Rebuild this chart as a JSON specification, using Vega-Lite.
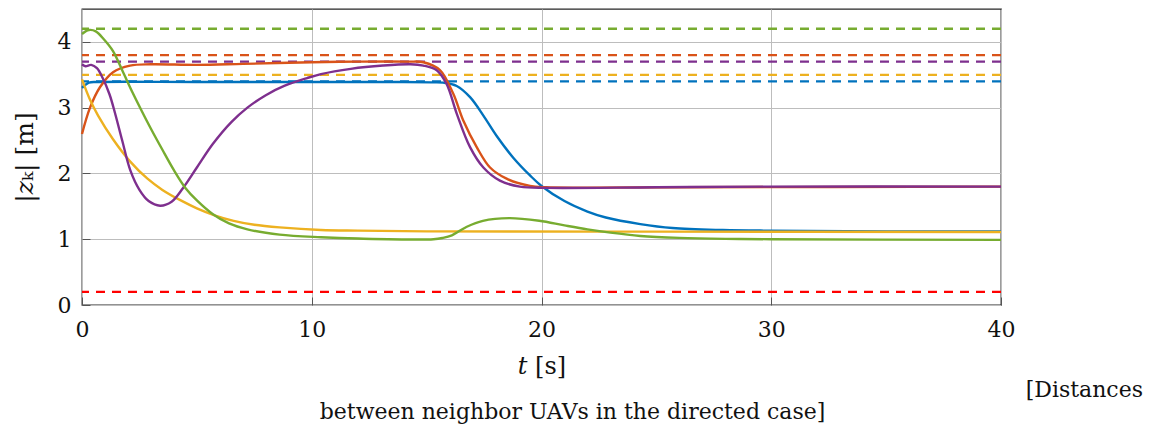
{
  "$schema": "https://vega.github.io/schema/vega-lite/v6.json",
  "width": 919,
  "height": 296,
  "autosize": {"type": "none"},
  "padding": {"left": 82, "top": 9, "right": 159, "bottom": 125},
  "background": "white",
  "config": {
    "view": {"stroke": "#262626", "strokeWidth": 1.3}
  },
  "title": {
    "text": "between neighbor UAVs in the directed case]",
    "orient": "bottom",
    "anchor": "middle",
    "frame": "group",
    "dx": 31,
    "offset": 1,
    "font": "DejaVu Serif",
    "fontSize": 22,
    "fontWeight": "normal",
    "color": "#111"
  },
  "resolve": {"scale": {"x": "shared", "y": "shared", "color": "shared"}},
  "layer": [
    {
      "data": {"values": [
        {"k": "z1", "v": 3.4},
        {"k": "z2", "v": 3.8},
        {"k": "z3", "v": 3.5},
        {"k": "z4", "v": 3.7},
        {"k": "z5", "v": 4.2},
        {"k": "min", "v": 0.2}
      ]},
      "mark": {"type": "rule", "strokeDash": [9, 7], "strokeWidth": 2.3},
      "encoding": {
        "y": {
          "field": "v",
          "type": "quantitative",
          "scale": {"domain": [0, 4.5], "nice": false},
          "axis": {
            "values": [0, 1, 2, 3, 4], "format": "d", "title": "|𝑧ₖ| [m]",
            "labelFont": "DejaVu Serif", "labelFontSize": 22, "labelColor": "#111", "labelPadding": 19,
            "titleFont": "DejaVu Serif", "titleFontSize": 25, "titleFontWeight": "normal", "titleColor": "#111", "titlePadding": 20,
            "grid": true, "gridColor": "#bdbdbd", "gridWidth": 1, "domain": false,
            "ticks": true, "tickSize": -8, "tickColor": "#555", "tickWidth": 1
          }
        },
        "color": {
          "field": "k",
          "type": "nominal",
          "legend": null,
          "scale": {
            "domain": ["z1", "z2", "z3", "z4", "z5", "min"],
            "range": ["#0072BD", "#D95319", "#EDB120", "#7E2F8E", "#77AC30", "#FF0000"]
          }
        }
      }
    },
    {
      "data": {"values": [
        {"k":"z1","t":0,"v":3.30},{"k":"z1","t":0.3,"v":3.38},{"k":"z1","t":0.7,"v":3.39},{"k":"z1","t":5,"v":3.39},{"k":"z1","t":10,"v":3.39},{"k":"z1","t":14,"v":3.39},{"k":"z1","t":15.2,"v":3.385},{"k":"z1","t":15.73,"v":3.38},{"k":"z1","t":16.31,"v":3.33},{"k":"z1","t":16.89,"v":3.16},{"k":"z1","t":17.47,"v":2.88},{"k":"z1","t":18.05,"v":2.57},{"k":"z1","t":18.77,"v":2.24},{"k":"z1","t":19.5,"v":1.97},{"k":"z1","t":20.0,"v":1.81},{"k":"z1","t":21.0,"v":1.58},{"k":"z1","t":22.0,"v":1.42},{"k":"z1","t":22.8,"v":1.33},{"k":"z1","t":24.3,"v":1.23},{"k":"z1","t":25.7,"v":1.17},{"k":"z1","t":27.9,"v":1.14},{"k":"z1","t":30,"v":1.13},{"k":"z1","t":35,"v":1.12},{"k":"z1","t":40,"v":1.12},
        {"k":"z2","t":0,"v":2.60},{"k":"z2","t":0.35,"v":3.0},{"k":"z2","t":0.78,"v":3.31},{"k":"z2","t":1.35,"v":3.54},{"k":"z2","t":2.09,"v":3.64},{"k":"z2","t":3,"v":3.66},{"k":"z2","t":5,"v":3.65},{"k":"z2","t":7,"v":3.665},{"k":"z2","t":10,"v":3.69},{"k":"z2","t":12,"v":3.70},{"k":"z2","t":14.2,"v":3.70},{"k":"z2","t":14.86,"v":3.69},{"k":"z2","t":15.58,"v":3.57},{"k":"z2","t":16.16,"v":3.21},{"k":"z2","t":16.6,"v":2.80},{"k":"z2","t":17.18,"v":2.40},{"k":"z2","t":17.76,"v":2.09},{"k":"z2","t":18.48,"v":1.92},{"k":"z2","t":19.5,"v":1.81},{"k":"z2","t":20.2,"v":1.79},{"k":"z2","t":22,"v":1.785},{"k":"z2","t":26,"v":1.79},{"k":"z2","t":40,"v":1.80},
        {"k":"z3","t":0,"v":3.43},{"k":"z3","t":0.35,"v":3.12},{"k":"z3","t":0.7,"v":2.88},{"k":"z3","t":1.35,"v":2.52},{"k":"z3","t":2.1,"v":2.18},{"k":"z3","t":2.85,"v":1.92},{"k":"z3","t":3.5,"v":1.75},{"k":"z3","t":4.3,"v":1.59},{"k":"z3","t":5.0,"v":1.47},{"k":"z3","t":5.8,"v":1.36},{"k":"z3","t":6.6,"v":1.28},{"k":"z3","t":7.5,"v":1.22},{"k":"z3","t":8.6,"v":1.18},{"k":"z3","t":10.4,"v":1.14},{"k":"z3","t":12,"v":1.13},{"k":"z3","t":15,"v":1.12},{"k":"z3","t":25,"v":1.115},{"k":"z3","t":40,"v":1.11},
        {"k":"z4","t":0,"v":3.66},{"k":"z4","t":0.15,"v":3.63},{"k":"z4","t":0.4,"v":3.65},{"k":"z4","t":0.65,"v":3.6},{"k":"z4","t":0.9,"v":3.45},{"k":"z4","t":1.2,"v":3.2},{"k":"z4","t":1.45,"v":2.9},{"k":"z4","t":1.75,"v":2.5},{"k":"z4","t":2.1,"v":2.05},{"k":"z4","t":2.5,"v":1.75},{"k":"z4","t":2.9,"v":1.58},{"k":"z4","t":3.4,"v":1.51},{"k":"z4","t":3.9,"v":1.57},{"k":"z4","t":4.4,"v":1.78},{"k":"z4","t":5.0,"v":2.09},{"k":"z4","t":5.7,"v":2.45},{"k":"z4","t":6.5,"v":2.78},{"k":"z4","t":7.2,"v":3.0},{"k":"z4","t":8.0,"v":3.19},{"k":"z4","t":8.8,"v":3.33},{"k":"z4","t":9.8,"v":3.45},{"k":"z4","t":10.4,"v":3.51},{"k":"z4","t":11.7,"v":3.59},{"k":"z4","t":13.1,"v":3.64},{"k":"z4","t":14.3,"v":3.66},{"k":"z4","t":14.86,"v":3.64},{"k":"z4","t":15.44,"v":3.57},{"k":"z4","t":15.87,"v":3.36},{"k":"z4","t":16.31,"v":2.91},{"k":"z4","t":16.89,"v":2.40},{"k":"z4","t":17.47,"v":2.09},{"k":"z4","t":18.19,"v":1.89},{"k":"z4","t":19.06,"v":1.80},{"k":"z4","t":20.2,"v":1.78},{"k":"z4","t":25,"v":1.79},{"k":"z4","t":30,"v":1.80},{"k":"z4","t":40,"v":1.80},
        {"k":"z5","t":0,"v":4.12},{"k":"z5","t":0.3,"v":4.18},{"k":"z5","t":0.6,"v":4.16},{"k":"z5","t":0.95,"v":4.04},{"k":"z5","t":1.35,"v":3.86},{"k":"z5","t":1.8,"v":3.53},{"k":"z5","t":2.2,"v":3.23},{"k":"z5","t":2.6,"v":2.95},{"k":"z5","t":3.0,"v":2.68},{"k":"z5","t":3.5,"v":2.36},{"k":"z5","t":4.0,"v":2.05},{"k":"z5","t":4.5,"v":1.78},{"k":"z5","t":5.0,"v":1.59},{"k":"z5","t":5.7,"v":1.38},{"k":"z5","t":6.4,"v":1.24},{"k":"z5","t":7.2,"v":1.15},{"k":"z5","t":8.6,"v":1.07},{"k":"z5","t":10.4,"v":1.03},{"k":"z5","t":12,"v":1.01},{"k":"z5","t":15.3,"v":1.0},{"k":"z5","t":15.7,"v":1.02},{"k":"z5","t":16.1,"v":1.06},{"k":"z5","t":16.75,"v":1.19},{"k":"z5","t":17.45,"v":1.28},{"k":"z5","t":18.6,"v":1.32},{"k":"z5","t":19.9,"v":1.28},{"k":"z5","t":21,"v":1.21},{"k":"z5","t":22,"v":1.15},{"k":"z5","t":23,"v":1.10},{"k":"z5","t":24.3,"v":1.05},{"k":"z5","t":26,"v":1.02},{"k":"z5","t":28,"v":1.005},{"k":"z5","t":30,"v":1.0},{"k":"z5","t":40,"v":0.99}
      ]},
      "mark": {"type": "line", "strokeWidth": 2.4, "interpolate": "catmull-rom"},
      "encoding": {
        "x": {
          "field": "t",
          "type": "quantitative",
          "scale": {"domain": [0, 40], "nice": false},
          "axis": {
            "values": [0, 10, 20, 30, 40], "format": "d", "title": "𝑡 [s]",
            "labelFont": "DejaVu Serif", "labelFontSize": 22, "labelColor": "#111", "labelFlush": false, "labelPadding": 22,
            "titleFont": "DejaVu Serif", "titleFontSize": 24, "titleFontWeight": "normal", "titleColor": "#111", "titlePadding": 14,
            "grid": true, "gridColor": "#bdbdbd", "gridWidth": 1, "domain": false,
            "ticks": true, "tickSize": -8, "tickColor": "#555", "tickWidth": 1
          }
        },
        "y": {"field": "v", "type": "quantitative"},
        "color": {"field": "k", "type": "nominal"}
      }
    },
    {
      "data": {"values": [{"caption": "[Distances"}]},
      "mark": {"type": "text", "align": "right", "baseline": "alphabetic", "dx": 142, "clip": false, "font": "DejaVu Serif", "fontSize": 22, "fill": "#111"},
      "encoding": {
        "x": {"datum": 40, "type": "quantitative"},
        "y": {"datum": -1.4, "type": "quantitative"},
        "text": {"field": "caption", "type": "nominal"}
      }
    }
  ]
}
